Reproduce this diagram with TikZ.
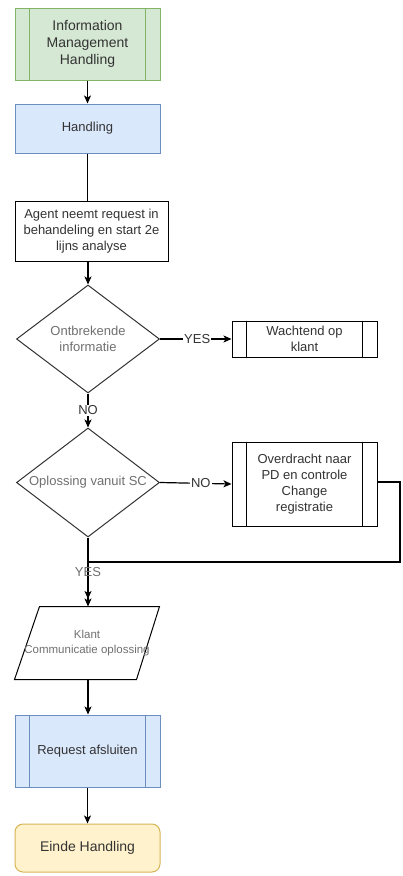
\documentclass[tikz,border=0pt]{standalone}
\usepackage{fontspec}
\setmainfont{Liberation Sans}
\usetikzlibrary{arrows.meta,shapes.geometric}

\definecolor{greenfill}{HTML}{D5E8D4}
\definecolor{greenline}{HTML}{82B366}
\definecolor{bluefill}{HTML}{DAE8FC}
\definecolor{blueline}{HTML}{6C8EBF}
\definecolor{yellowfill}{HTML}{FFF2CC}
\definecolor{yellowline}{HTML}{D6B656}
\definecolor{txt}{HTML}{333333}
\definecolor{softtxt}{HTML}{707070}

\tikzset{
  base/.style={rectangle, inner sep=2pt, align=center, text=txt,
    font=\fontsize{13}{16}\selectfont, line width=1pt},
  greenproc/.style={base, draw=greenline, fill=greenfill, minimum width=145pt},
  blueproc/.style={base, draw=blueline, fill=bluefill, minimum width=145pt},
  plainbox/.style={base, draw=black, fill=white},
  decision/.style={diamond, aspect=1.32, draw=txt, fill=white, line width=1pt,
    inner sep=0pt, align=center, text=softtxt, font=\fontsize{13}{16}\selectfont,
    minimum width=143pt, minimum height=108pt},
  terminal/.style={base, draw=yellowline, fill=yellowfill, rounded corners=8pt,
    minimum width=145pt, minimum height=48pt, font=\fontsize{14}{17}\selectfont},
  flow/.style={line width=1.2pt, -{Stealth[length=8pt,width=7pt,inset=2pt]}},
  link/.style={line width=1.2pt},
  edgelabel/.style={fill=white, inner sep=1pt, text=txt,
    font=\fontsize{13}{15}\selectfont},
  softlabel/.style={inner sep=1pt, text=softtxt, font=\fontsize{13}{15}\selectfont}
}

% inner bars of a predefined-process box
\newcommand{\procbars}[2]{%
  \draw[#2, line width=1pt] ([xshift=15pt]#1.north west) -- ([xshift=15pt]#1.south west);
  \draw[#2, line width=1pt] ([xshift=-15pt]#1.north east) -- ([xshift=-15pt]#1.south east);
}

\begin{document}
\begin{tikzpicture}[x=1pt, y=-1pt]
\useasboundingbox (0,0) rectangle (403,876);
\fill[white] (0,0) rectangle (403,876);

% nodes
\node[greenproc, minimum height=72pt, font=\fontsize{14}{17}\selectfont]
  (info) at (87.5,44) {Information\\Management\\Handling};
\procbars{info}{greenline}

\node[blueproc, minimum height=49pt] (handling) at (87.5,128.5) {Handling};

\node[plainbox, minimum width=153pt, minimum height=60pt]
  (agent) at (91.5,231) {Agent neemt request in\\behandeling en start 2e\\lijns analyse};

\node[decision] (d1) at (88,339) {Ontbrekende\\informatie};

\node[plainbox, minimum width=145pt, minimum height=36pt]
  (wait) at (304.5,339) {Wachtend op\\klant};
\procbars{wait}{black}

\node[decision, minimum height=109pt] (d2) at (88,482.5) {Oplossing vanuit SC};

\node[plainbox, minimum width=145pt, minimum height=84pt]
  (over) at (304.5,484) {Overdracht naar\\PD en controle\\Change\\registratie};
\procbars{over}{black}

% parallelogram (data) box
\node[base, draw=none, minimum width=144pt, minimum height=72pt] (para) at (87,643) {};
\draw[black, line width=1pt, fill=white]
  ([xshift=25pt]para.north west) -- (para.north east)
  -- ([xshift=-23pt]para.south east) -- (para.south west) -- cycle;
\node[base, text=softtxt, font=\fontsize{11.5}{15}\selectfont] at (para.center)
  {Klant\\Communicatie oplossing};

\node[blueproc, minimum height=72pt] (req) at (87.5,751) {Request afsluiten};
\procbars{req}{blueline}

\node[terminal] (end) at (87.5,848) {Einde Handling};

% connectors
\draw[flow] (info.south) -- (handling.north);
\draw[link] (handling.south) -- (handling.south |- agent.north);
\draw[flow] (agent.south -| d1.north) -- (d1.north);
\draw[flow] (d1.east) -- node[edgelabel, pos=0.52] {YES} (wait.west);
\draw[flow] (d1.south) -- node[edgelabel, pos=0.5] {NO} (d2.north);
\draw[flow] (d2.east) -- node[edgelabel, pos=0.57] {NO} (over.west);
\coordinate (turn1) at (400,482);
\coordinate (turn2) at (400,562);
\coordinate (merge) at (88,562);
\coordinate (stop) at (88,599);
\draw[flow] (over.east |- turn1) -- (turn1) -- (turn2) -- (merge) -- (stop);
\draw[flow] (d2.south) -- node[softlabel, pos=0.5] {YES} (d2.south |- para.north);
\draw[flow] (d2.south |- para.south) -- (d2.south |- req.north);
\draw[flow] (req.south) -- (end.north);
\end{tikzpicture}
\end{document}
